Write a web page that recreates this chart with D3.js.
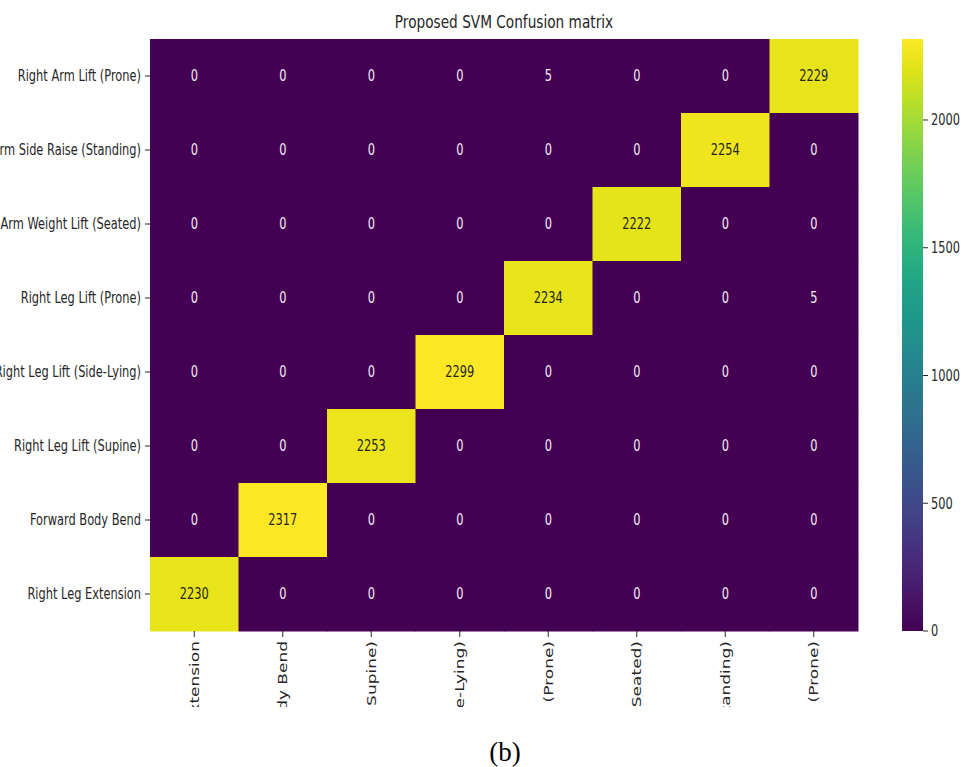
<!DOCTYPE html>
<html>
<head>
<meta charset="utf-8">
<script src="https://cdn.jsdelivr.net/npm/d3@7"></script>
<style>
  html, body { margin: 0; padding: 0; background: #fff; }
  svg { display: block; }
  text { font-family: "DejaVu Sans", sans-serif; }
</style>
</head>
<body>
<svg id="chart" width="962" height="767"></svg>
<script>
// ---- data ----
const xLabels = ["Right Leg Extension", "Forward Body Bend", "Right Leg Lift (Supine)", "Right Leg Lift (Side-Lying)", "Right Leg Lift (Prone)", "Right Arm Weight Lift (Seated)", "Right Arm Side Raise (Standing)", "Right Arm Lift (Prone)"];
const yLabels = ["Right Arm Lift (Prone)", "Right Arm Side Raise (Standing)", "Right Arm Weight Lift (Seated)", "Right Leg Lift (Prone)", "Right Leg Lift (Side-Lying)", "Right Leg Lift (Supine)", "Forward Body Bend", "Right Leg Extension"];
const row0 = [0, 0, 0, 0, 5, 0, 0, 2229];
const row1 = [0, 0, 0, 0, 0, 0, 2254, 0];
const row2 = [0, 0, 0, 0, 0, 2222, 0, 0];
const row3 = [0, 0, 0, 0, 2234, 0, 0, 5];
const row4 = [0, 0, 0, 2299, 0, 0, 0, 0];
const row5 = [0, 0, 2253, 0, 0, 0, 0, 0];
const row6 = [0, 2317, 0, 0, 0, 0, 0, 0];
const row7 = [2230, 0, 0, 0, 0, 0, 0, 0];
const matrix = [row0, row1, row2, row3, row4, row5, row6, row7];
const colorbarTicks = [0, 500, 1000, 1500, 2000];
const chartTitle = "Proposed SVM Confusion matrix";
const caption = "(b)";

// ---- layout ----
const svg = d3.select("#chart");
const mLeft = 150, mRight = 858, mTop = 39, mBottom = 631;
const sx = 0.76;

const x = d3.scaleBand().domain(d3.range(xLabels.length)).range([mLeft, mRight]).padding(0);
const y = d3.scaleBand().domain(d3.range(yLabels.length)).range([mTop, mBottom]).padding(0);
const vmax = d3.max(matrix.flat());
const color = d3.scaleSequential(d3.interpolateViridis).domain([0, vmax]);

const cells = [];
matrix.forEach((r, i) => r.forEach((v, j) => cells.push({i, j, v})));

// cells
svg.append("g").selectAll("rect").data(cells).join("rect")
  .attr("x", d => x(d.j))
  .attr("y", d => y(d.i))
  .attr("width", x.bandwidth() + 0.5)
  .attr("height", y.bandwidth() + 0.5)
  .attr("fill", d => color(d.v));

// annotations
svg.append("g").selectAll("text").data(cells).join("text")
  .attr("transform", d => `translate(${x(d.j) + x.bandwidth() / 2},${y(d.i) + y.bandwidth() / 2}) scale(0.76,1)`)
  .attr("text-anchor", "middle")
  .attr("dy", "0.36em")
  .attr("font-size", 15)
  .attr("fill", d => d.v / vmax > 0.5 ? "#262626" : "#f4eef4")
  .text(d => d.v);

// y axis
const yAxis = svg.append("g");
yLabels.forEach((lab, i) => {
  const cy = y(i) + y.bandwidth() / 2;
  yAxis.append("line").attr("x1", mLeft - 5).attr("x2", mLeft).attr("y1", cy).attr("y2", cy)
    .attr("stroke", "#262626").attr("stroke-width", 1);
  yAxis.append("text")
    .attr("transform", `translate(${mLeft - 9},${cy}) scale(${sx},1)`)
    .attr("text-anchor", "end").attr("dy", "0.36em")
    .attr("font-size", 15).attr("fill", "#262626")
    .text(lab);
});

// x axis (labels clipped like the source image)
svg.append("clipPath").attr("id", "xclip").append("rect")
  .attr("x", 0).attr("y", mBottom).attr("width", 962).attr("height", 707 - mBottom);
const xAxis = svg.append("g").attr("clip-path", "url(#xclip)");
xLabels.forEach((lab, j) => {
  const cx = x(j) + x.bandwidth() / 2;
  xAxis.append("line").attr("x1", cx).attr("x2", cx).attr("y1", mBottom).attr("y2", mBottom + 6)
    .attr("stroke", "#262626").attr("stroke-width", 1);
  xAxis.append("text")
    .attr("transform", `translate(${cx},${mBottom + 10}) rotate(-90) scale(1,0.77)`)
    .attr("text-anchor", "end").attr("dy", "0.36em")
    .attr("font-size", 17).attr("fill", "#262626")
    .text(lab);
});

// title
svg.append("text")
  .attr("transform", `translate(${(mLeft + mRight) / 2},28) scale(0.76,1)`)
  .attr("text-anchor", "middle").attr("font-size", 18).attr("fill", "#262626")
  .text(chartTitle);

// colorbar
const cbX = 902, cbW = 21;
const cbScale = d3.scaleLinear().domain([0, vmax]).range([mBottom, mTop]);
const grad = svg.append("defs").append("linearGradient").attr("id", "cbgrad")
  .attr("x1", 0).attr("y1", 1).attr("x2", 0).attr("y2", 0);
d3.range(0, 1.0001, 0.05).forEach(t => {
  grad.append("stop").attr("offset", t).attr("stop-color", d3.interpolateViridis(t));
});
svg.append("rect").attr("x", cbX).attr("y", mTop).attr("width", cbW).attr("height", mBottom - mTop)
  .attr("fill", "url(#cbgrad)");
const cb = svg.append("g");
colorbarTicks.forEach(t => {
  const ty = cbScale(t);
  cb.append("line").attr("x1", cbX + cbW).attr("x2", cbX + cbW + 5).attr("y1", ty).attr("y2", ty)
    .attr("stroke", "#262626").attr("stroke-width", 1);
  cb.append("text")
    .attr("transform", `translate(${cbX + cbW + 8},${ty}) scale(${sx},1)`)
    .attr("dy", "0.36em").attr("font-size", 15).attr("fill", "#262626")
    .text(t);
});

// caption
svg.append("text")
  .attr("x", 505).attr("y", 761)
  .attr("text-anchor", "middle")
  .style("font-family", "'Liberation Serif', 'Times New Roman', serif")
  .attr("font-size", 27).attr("fill", "#000")
  .text(caption);
</script>
</body>
</html>
